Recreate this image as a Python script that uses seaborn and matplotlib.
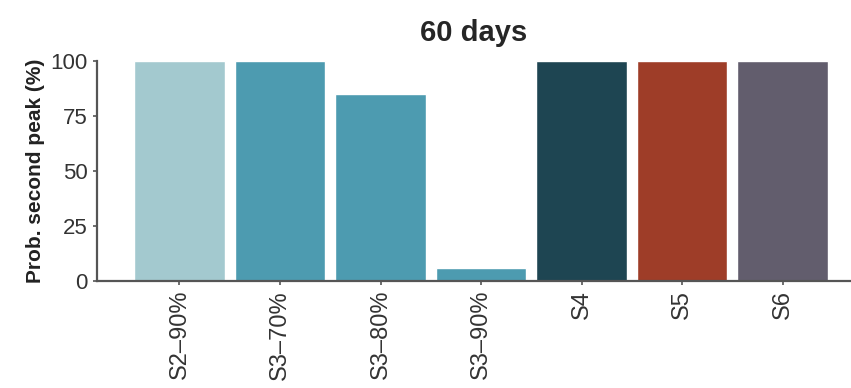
import matplotlib
matplotlib.use("Agg")
import matplotlib.pyplot as plt
import pandas as pd
import seaborn as sns

# values
scenarios = ["S2\u201390%", "S3\u201370%", "S3\u201380%", "S3\u201390%", "S4", "S5", "S6"]
prob_second_peak = [100, 100, 85, 6, 100, 100, 100]
bar_colors = ["#a3c9cf", "#4d9bb0", "#4d9bb0", "#4d9bb0", "#1e4552", "#9e3d28", "#625d6d"]

df = pd.DataFrame({"scenario": scenarios, "prob": prob_second_peak})

sns.set_style("white")
plt.rcParams["font.family"] = ["Liberation Sans", "DejaVu Sans"]

fig = plt.figure(figsize=(8.51, 3.88), dpi=100)
ax = fig.add_axes([0.114, 0.276, 0.886, 0.567])

sns.barplot(
    data=df,
    x="scenario",
    y="prob",
    hue="scenario",
    palette=bar_colors,
    legend=False,
    width=0.9,
    saturation=1,
    ax=ax,
)

ax.set_ylim(0, 100)
ax.set_xlim(-0.82, 6.68)
ax.set_yticks([0, 25, 50, 75, 100])
ax.set_xlabel("")
ax.set_ylabel("Prob. second peak (%)", fontsize=15, fontweight="bold", color="#222222",
              labelpad=4)
ax.set_title("60 days", fontsize=21, fontweight="bold", pad=14)

sns.despine(ax=ax)
for side in ["left", "bottom"]:
    ax.spines[side].set_color("#555555")
    ax.spines[side].set_linewidth(1.6)

ax.tick_params(axis="both", length=3, width=1.2, color="#555555", labelsize=16,
               labelcolor="#333333", left=True, bottom=True)
ax.tick_params(axis="x", rotation=90, labelsize=17)

fig.savefig("out.png", dpi=100)
